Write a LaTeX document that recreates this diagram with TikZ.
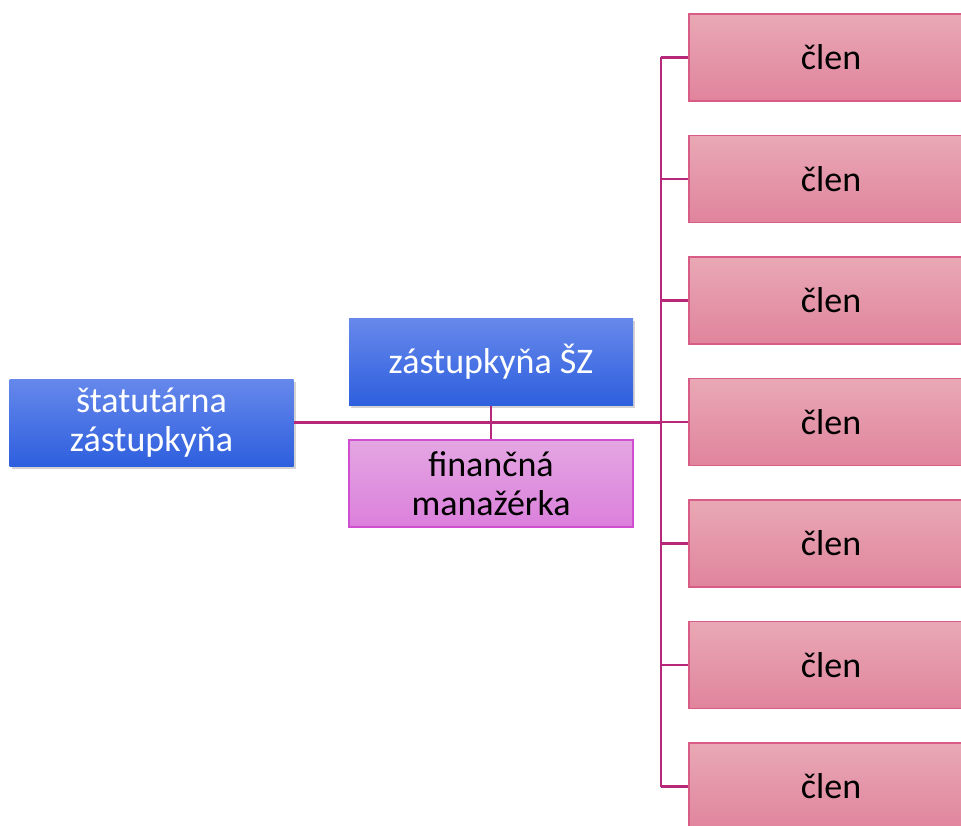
\documentclass[tikz,border=0pt]{standalone}
\usepackage{fontspec}
\setmainfont{Carlito}
\usetikzlibrary{shadows}

\definecolor{blueTop}{RGB}{102,136,235}
\definecolor{blueBot}{RGB}{46,95,222}
\definecolor{pinkTop}{RGB}{233,168,181}
\definecolor{pinkBot}{RGB}{224,132,156}
\definecolor{pinkLine}{RGB}{216,92,134}
\definecolor{violetTop}{RGB}{228,166,226}
\definecolor{violetBot}{RGB}{219,128,220}
\definecolor{violetLine}{RGB}{208,78,208}
\definecolor{connLine}{RGB}{184,40,122}

\tikzset{
  box/.style={rectangle,minimum width=7.1cm,minimum height=2.175cm,inner sep=0pt,align=center,font=\fontsize{25.6}{28}\selectfont},
  bluebox/.style={box,top color=blueTop,bottom color=blueBot,text=white,drop shadow={shadow xshift=1.5pt,shadow yshift=-2pt,opacity=0.35}},
  violetbox/.style={box,draw=violetLine,line width=1pt,top color=violetTop,bottom color=violetBot},
  memberbox/.style={box,draw=pinkLine,line width=1pt,top color=pinkTop,bottom color=pinkBot},
  conn/.style={connLine,line width=1.9pt}
}

\begin{document}
\begin{tikzpicture}

%% - Picture frame
%% - --------------------------------------
\clip (0,0) rectangle (24.025,20.625);

%% - Draw leading boxes
%% - --------------------------------------
\node[bluebox] (lead) at (3.7875,10.0625) {štatutárna\\zástupkyňa};
\node[bluebox] (deputy) at (12.275,11.575) {zástupkyňa ŠZ};
\node[violetbox] (finance) at (12.275,8.5375) {finančná\\manažérka};

%% - Draw member boxes
%% - --------------------------------------
\foreach \i in {1,...,7}{
  \node[memberbox] (member\i) at (20.775,{19.1875-(\i-1)*3.0375}) {člen};
}

%% - Draw connections
%% - --------------------------------------
\coordinate (trunk) at (16.525,10.0625);
\draw[conn] (member1.west -| trunk) -- (member7.west -| trunk);
\foreach \i in {1,...,7}{
  \draw[conn] (member\i.west -| trunk) -- (member\i.west);
}
\draw[conn] (lead.east) -- (trunk);
\draw[conn,line width=1.5pt] (deputy.south) -- (finance.north);

\end{tikzpicture}
\end{document}
